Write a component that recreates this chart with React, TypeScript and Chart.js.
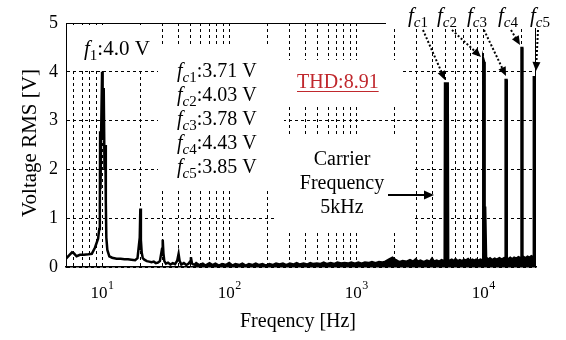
import React, { useEffect, useRef } from 'react';
import { Chart, registerables } from 'chart.js';

Chart.register(...registerables);

// ---------- data ----------
// low-frequency part of the spectrum, drawn as a plain line
const lowFreqHz = [
  5.2, 5.5, 5.8, 6.0, 6.3, 6.7, 7.2, 7.8, 8.3, 8.8, 9.3, 9.5, 9.6, 9.65, 9.72, 9.85, 10.0, 10.1, 10.3, 10.45,
  10.6, 10.7, 10.8, 11.0, 11.4, 12, 13, 14, 15, 16, 17, 18.2, 19.0, 19.5, 19.7, 20.0, 20.2, 20.5, 20.9, 21.5,
  22.5, 23.5, 24.5, 25.5, 26.5, 27.5, 28.5, 29.3, 29.7, 30.0, 30.4, 30.9, 31.8, 33, 34.5, 36, 37.5, 39, 40, 40.8,
  42, 44, 46, 48, 49.5, 50, 51, 53,
];
const lowVolts = [
  0.17, 0.24, 0.30, 0.28, 0.22, 0.25, 0.25, 0.26, 0.27, 0.40, 0.58, 0.78, 1.10, 2.78, 1.60, 2.90, 4.00, 2.60, 3.67, 2.00,
  2.50, 1.33, 0.60, 0.35, 0.22, 0.19, 0.17, 0.17, 0.16, 0.16, 0.15, 0.14, 0.18, 0.45, 0.35, 1.20, 0.55, 0.30, 0.18, 0.15,
  0.12, 0.11, 0.10, 0.11, 0.08, 0.09, 0.12, 0.30, 0.25, 0.56, 0.28, 0.12, 0.07, 0.09, 0.05, 0.08, 0.06, 0.13, 0.27, 0.12,
  0.05, 0.08, 0.04, 0.07, 0.12, 0.20, 0.07, 0.04,
];
// noise floor and carrier bars, drawn as a filled band
const highFreqHz = [
  53, 55, 58, 62, 65, 70, 74, 78, 83, 88, 94, 100, 106,
  112, 120, 127, 135, 143, 152, 162, 172, 183, 195, 207, 220, 234, 249, 265, 282, 300, 320, 340, 360,
  385, 410, 435, 460, 490, 520, 555, 590, 630, 670, 710, 760, 810, 860, 915, 975, 1040, 1100, 1170, 1250,
  1330, 1420, 1510, 1600, 1700, 1810, 1930, 2050, 2180, 2320,
  2500, 2650, 2800, 2950, 3050, 3200, 3400, 3600, 3800, 3950, 4100, 4300, 4500, 4700, 4900,
  4970, 5000, 5250, 5290,
  5450, 5650, 5850, 6050, 6300, 6550, 6800, 7050, 7300, 7600, 7900, 8200, 8500, 8800, 9100, 9500, 9900,
  9960, 10000, 10150, 10190, 10300, 10340, 10480, 10520,
  10900, 11300, 11800, 12300, 12800, 13400, 14000, 14600,
  14950, 15000, 15250, 15300,
  15700, 16300, 16900, 17500, 18200, 18900, 19600,
  19950, 20000, 20280, 20330,
  20800, 21500, 22300, 23100, 23900, 24600,
  24950, 25000, 25300, 25350, 25600, 26000,
];
const highVolts = [
  0.04, 0.08, 0.04, 0.07, 0.03, 0.08, 0.04, 0.07, 0.03, 0.06, 0.04, 0.08, 0.03,
  0.06, 0.04, 0.07, 0.03, 0.06, 0.04, 0.07, 0.04, 0.06, 0.03, 0.06, 0.04, 0.07, 0.05, 0.07, 0.04, 0.07, 0.05, 0.08, 0.05,
  0.07, 0.05, 0.08, 0.06, 0.07, 0.06, 0.09, 0.06, 0.08, 0.06, 0.09, 0.07, 0.08, 0.07, 0.09, 0.07, 0.09, 0.07, 0.09, 0.08,
  0.10, 0.08, 0.10, 0.09, 0.11, 0.15, 0.19, 0.14, 0.10, 0.12,
  0.11, 0.14, 0.11, 0.16, 0.11, 0.13, 0.10, 0.13, 0.11, 0.17, 0.11, 0.13, 0.11, 0.14, 0.12,
  0.14, 3.76, 3.76, 0.14,
  0.13, 0.15, 0.12, 0.16, 0.12, 0.14, 0.12, 0.15, 0.13, 0.16, 0.12, 0.15, 0.13, 0.15, 0.13, 0.15, 0.13,
  0.15, 4.26, 4.20, 0.30, 0.25, 1.24, 1.24, 0.20,
  0.15, 0.18, 0.14, 0.17, 0.15, 0.18, 0.15, 0.18,
  0.17, 3.83, 3.83, 0.17,
  0.16, 0.19, 0.16, 0.19, 0.17, 0.20, 0.18,
  0.18, 4.49, 4.49, 0.19,
  0.20, 0.18, 0.21, 0.19, 0.22, 0.20,
  0.22, 3.89, 3.89, 0.24, 0.23, 0.26,
];
const gridFreqHz = [
  6, 7, 8, 9, 10, 20, 30, 40, 50, 60, 70, 80, 90, 100, 200, 300, 400, 500, 600, 700, 800, 900,
  1000, 2000, 3000, 4000, 5000, 6000, 7000, 8000, 9000, 10000, 20000,
];
const decadeTicks = [10, 100, 1000, 10000];
const decadeExponents = ['1', '2', '3', '4'];
const carrierSubs = ['c1', 'c2', 'c3', 'c4', 'c5'];
const carrierVoltLabels = ['3.71', '4.03', '3.78', '4.43', '3.85'];
const fundamentalLabel = '4.0';
const thdLabel = 'THD:8.91';
const carrierNote = ['Carrier', 'Frequency', '5kHz'];
const xTitle = 'Freqency [Hz]';
const yTitle = 'Voltage RMS [V]';

const SERIF = "'Liberation Serif', 'Times New Roman', serif";

type Part = [string, number, boolean, number];

function drawRich(ctx: CanvasRenderingContext2D, x: number, y: number, parts: Part[]) {
  let cx = x;
  for (const [t, size, italic, dy] of parts) {
    ctx.font = `${italic ? 'italic ' : ''}${size}px ${SERIF}`;
    ctx.fillText(t, cx, y + dy);
    cx += ctx.measureText(t).width;
  }
}

function subParts(sub: string, main: number, subSize: number): Part[] {
  const out: Part[] = [['f', main, true, 0]];
  for (const ch of sub) out.push([ch, subSize, /[a-z]/.test(ch), 5]);
  return out;
}

function arrowHead(ctx: CanvasRenderingContext2D, x1: number, y1: number, x2: number, y2: number, len: number, half: number) {
  const a = Math.atan2(y2 - y1, x2 - x1);
  const bx = x2 - len * Math.cos(a);
  const by = y2 - len * Math.sin(a);
  ctx.beginPath();
  ctx.moveTo(x2, y2);
  ctx.lineTo(bx + half * Math.sin(a), by - half * Math.cos(a));
  ctx.lineTo(bx - half * Math.sin(a), by + half * Math.cos(a));
  ctx.closePath();
  ctx.fill();
}

// white label backgrounds that hide the grid (pixel boxes)
const maskBoxes = [
  [67, 25, 91, 45],
  [158, 45, 126, 146],
  [284, 60, 116, 44],
  [277, 136, 136, 95],
  [386, 0, 180, 28],
];

// arrows from top labels to carrier bars (pixel)
const carrierArrows = [
  [423, 30, 445, 80],
  [452, 30, 481, 57],
  [484, 30, 506, 76],
  [511, 30, 520, 45],
  [538, 30, 536, 71],
];
const topLabelX = [408, 437, 467, 498, 530];

const overlay = {
  id: 'overlay',
  beforeDatasetsDraw(chart: any) {
    const { ctx, chartArea: a } = chart;
    ctx.save();
    ctx.strokeStyle = '#000';
    ctx.lineWidth = 1;
    ctx.setLineDash([]);
    ctx.beginPath();
    ctx.moveTo(a.left, a.top + 0.5);
    ctx.lineTo(a.right, a.top + 0.5);
    ctx.moveTo(a.right - 0.5, a.top);
    ctx.lineTo(a.right - 0.5, a.bottom);
    ctx.stroke();
    ctx.fillStyle = '#fff';
    for (const [x, y, w, h] of maskBoxes) ctx.fillRect(x, y, w, h);
    ctx.restore();
  },
  afterDraw(chart: any) {
    const { ctx } = chart;
    const xs = chart.scales.x;
    ctx.save();
    ctx.fillStyle = '#000';
    ctx.textBaseline = 'alphabetic';
    ctx.textAlign = 'left';

    // x tick labels 10^n
    decadeTicks.forEach((v, i) => {
      const px = xs.getPixelForValue(v);
      ctx.font = `17px ${SERIF}`;
      const w1 = ctx.measureText('10').width;
      ctx.font = `12px ${SERIF}`;
      const w2 = ctx.measureText(decadeExponents[i]).width;
      const start = px - (w1 + w2) / 2;
      ctx.font = `17px ${SERIF}`;
      ctx.fillText('10', start, 298);
      ctx.font = `12px ${SERIF}`;
      ctx.fillText(decadeExponents[i], start + w1 + 0.5, 289);
    });

    // axis titles
    ctx.font = `20px ${SERIF}`;
    ctx.textAlign = 'center';
    ctx.fillText(xTitle, 298, 327);
    ctx.save();
    ctx.translate(36, 143);
    ctx.rotate(-Math.PI / 2);
    ctx.font = `21px ${SERIF}`;
    ctx.fillText(yTitle, 0, 0);
    ctx.restore();
    ctx.textAlign = 'left';

    // fundamental label
    drawRich(ctx, 84, 55, [['f', 21, true, 0], ['1', 15, false, 5], [':' + fundamentalLabel + ' V', 21, false, 0]]);

    // carrier voltage list
    carrierSubs.forEach((s, i) => {
      drawRich(ctx, 177, 77 + i * 24, [...subParts(s, 20, 15), [':' + carrierVoltLabels[i] + ' V', 20, false, 0]]);
    });

    // top carrier labels
    carrierSubs.forEach((s, i) => {
      drawRich(ctx, topLabelX[i], 22, subParts(s, 21, 15));
    });

    // THD
    ctx.fillStyle = '#C0282D';
    ctx.strokeStyle = '#C0282D';
    ctx.font = `20px ${SERIF}`;
    ctx.fillText(thdLabel, 297, 88);
    const tw = ctx.measureText(thdLabel).width;
    ctx.lineWidth = 1;
    ctx.beginPath();
    ctx.moveTo(297, 91.5);
    ctx.lineTo(297 + tw, 91.5);
    ctx.stroke();

    // Carrier frequency note
    ctx.fillStyle = '#000';
    ctx.strokeStyle = '#000';
    ctx.textAlign = 'center';
    ctx.font = `20px ${SERIF}`;
    carrierNote.forEach((t, i) => ctx.fillText(t, 342, 165 + i * 24));
    ctx.textAlign = 'left';
    ctx.lineWidth = 2;
    ctx.beginPath();
    ctx.moveTo(388, 195);
    ctx.lineTo(425, 195);
    ctx.stroke();
    arrowHead(ctx, 388, 195, 434, 195, 10, 4.5);

    // dotted arrows to carrier bars
    for (const [x1, y1, x2, y2] of carrierArrows) {
      const a = Math.atan2(y2 - y1, x2 - x1);
      ctx.setLineDash([2, 2]);
      ctx.lineWidth = 2;
      ctx.beginPath();
      ctx.moveTo(x1, y1);
      ctx.lineTo(x2 - 8 * Math.cos(a), y2 - 8 * Math.sin(a));
      ctx.stroke();
      ctx.setLineDash([]);
      arrowHead(ctx, x1, y1, x2, y2, 9, 4);
    }
    ctx.restore();
  },
};

export default function App() {
  const ref = useRef<HTMLCanvasElement | null>(null);
  useEffect(() => {
    if (!ref.current) return;
    const chart = new Chart(ref.current, {
      type: 'line',
      data: {
        datasets: [
          {
            data: lowFreqHz.map((x, i) => ({ x, y: lowVolts[i] })),
            borderColor: '#000',
            borderWidth: 2.5,
            pointRadius: 0,
            fill: false,
            tension: 0,
          },
          {
            data: highFreqHz.map((x, i) => ({ x, y: highVolts[i] })),
            borderColor: '#000',
            backgroundColor: '#000',
            borderWidth: 2.5,
            pointRadius: 0,
            fill: 'origin',
            tension: 0,
          },
        ],
      },
      options: {
        responsive: false,
        animation: false,
        events: [],
        layout: { padding: { left: 0, right: 30, top: 23, bottom: 0 } },
        plugins: { legend: { display: false }, tooltip: { enabled: false } },
        scales: {
          x: {
            type: 'logarithmic',
            min: 5.2,
            max: 26000,
            afterBuildTicks: (s: any) => {
              s.ticks = gridFreqHz.map((v) => ({ value: v }));
            },
            afterFit: (s: any) => {
              s.height = 73;
            },
            ticks: { display: false, autoSkip: false },
            grid: { color: '#000', lineWidth: 1, drawTicks: false },
            border: { display: true, color: '#000', width: 1.5, dash: [3, 3] },
          },
          y: {
            min: 0,
            max: 5,
            afterFit: (s: any) => {
              s.width = 66;
            },
            ticks: { stepSize: 1, color: '#000', padding: 8, font: { family: SERIF, size: 18 } },
            grid: { color: '#000', lineWidth: 1, drawTicks: false },
            border: { display: true, color: '#000', width: 1, dash: [3, 3] },
          },
        },
      },
      plugins: [overlay],
    } as any);
    return () => chart.destroy();
  }, []);
  return (
    <div style={{ position: 'fixed', left: 0, top: 0, width: 566, height: 340, background: '#fff' }}>
      <canvas ref={ref} width={566} height={340} style={{ display: 'block' }} />
    </div>
  );
}
